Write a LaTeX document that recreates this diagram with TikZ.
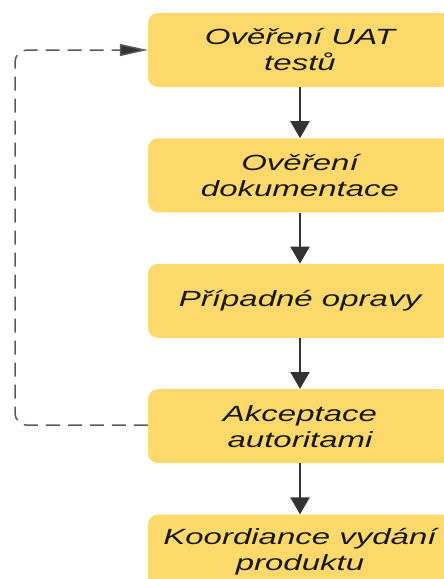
\documentclass[tikz,border=0pt]{standalone}
\usepackage{fontspec}
\setmainfont{Liberation Sans}[FakeStretch=1.5]
\usetikzlibrary{arrows.meta,positioning}
\definecolor{StepYellow}{HTML}{FDD96C}
\definecolor{FlowGray}{HTML}{333333}
\definecolor{LoopGray}{HTML}{5A5A5A}

\begin{document}
\begin{tikzpicture}[x=1pt,y=1pt,>=Latex,node distance=51pt,
  stepbox/.style={fill=StepYellow,rounded corners=10pt,minimum width=304pt,
    minimum height=74pt,align=center,text=black!90,
    font=\fontsize{22}{26}\selectfont\itshape},
  flow/.style={-{Triangle[length=17pt,width=19pt]},line width=2pt,FlowGray},
  loopback/.style={-{Triangle[length=28pt,width=12pt,fill=FlowGray]},line width=1.5pt,
    LoopGray,dash pattern=on 14pt off 8pt,rounded corners=12pt}]
  \useasboundingbox (0,0) rectangle (444,-579);
  \clip (0,0) rectangle (444,-579);

  \node[stepbox] (uat) at (300,-50) {Ověření UAT\\testů};
  \node[stepbox,below=of uat] (docs) {Ověření\\dokumentace};
  \node[stepbox,below=of docs] (fixes) {Případné opravy};
  \node[stepbox,below=of fixes] (accept) {Akceptace\\autoritami};
  \node[stepbox,below=of accept] (release) {Koordiance vydání\\produktu};

  \draw[flow] (uat) -- (docs);
  \draw[flow] (docs) -- (fixes);
  \draw[flow] (fixes) -- (accept);
  \draw[flow] (accept) -- (release);

  % zpetna vazba
  \coordinate (rail) at (15,-236);
  \draw[loopback] ([yshift=1pt]accept.west) -| (rail) |- (uat.west);
\end{tikzpicture}
\end{document}
